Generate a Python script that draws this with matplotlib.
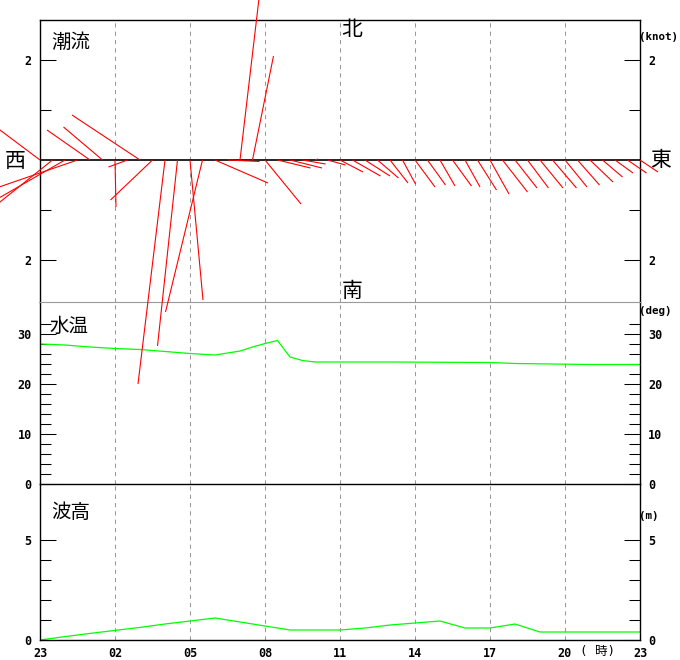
import matplotlib
matplotlib.use('Agg')
import matplotlib.pyplot as plt
import numpy as np
from matplotlib.collections import LineCollection

# time axis (hours after 23:00)
tick_hours = [0, 3, 6, 9, 12, 15, 18, 21, 24]
tick_labels = ['23', '02', '05', '08', '11', '14', '17', '20', '23']

# tidal current every 30 min, knots (east, north components)
cur_hours = np.arange(0, 24.5, 0.5)
cur_east = [-1.20, -1.30, -1.60, -1.80, -0.86, -0.78, 0.02, -0.38, -1.36, -0.84,
            -0.54, -0.40, 0.26, -0.74, 1.06, 0.64, 0.40, 0.42, 0.72, 0.66,
            0.64, 0.46, 0.06, 0.36, 0.46, 0.56, 0.50, 0.42, 0.36, 0.26,
            0.40, 0.36, 0.30, 0.38, 0.30, 0.38, 0.38, 0.50, 0.44, 0.42,
            0.46, 0.48, 0.44, 0.44, 0.46, 0.40, 0.36, 0.38, 0.36]
cur_north = [0.90, -1.04, -0.92, -0.62, 0.60, 0.66, -0.94, -0.14, 0.90, -0.80,
             -4.48, -3.72, -2.80, -3.04, -0.46, -0.03, 3.40, 2.08, -0.88, -0.16,
             -0.16, -0.08, 0.02, -0.10, -0.24, -0.32, -0.32, -0.36, -0.46, -0.48,
             -0.54, -0.50, -0.52, -0.52, -0.54, -0.60, -0.68, -0.64, -0.56, -0.56,
             -0.56, -0.56, -0.54, -0.50, -0.44, -0.34, -0.26, -0.26, -0.24]

# water temperature (deg)
temp_hours = [0, 1, 2, 3, 4, 5, 6, 7, 8, 8.5, 9, 9.5, 10, 10.5, 11, 14, 18, 19, 22, 24]
temp_deg = [28.0, 27.8, 27.4, 27.1, 26.9, 26.5, 26.1, 25.8, 26.6, 27.4, 28.1, 28.7,
            25.4, 24.7, 24.4, 24.4, 24.3, 24.1, 23.9, 23.9]

# wave height (m)
wave_hours = list(range(25))
wave_m = [0.0, 0.17, 0.33, 0.48, 0.63, 0.8, 0.95, 1.1, 0.9, 0.7, 0.5, 0.5, 0.5,
          0.6, 0.75, 0.85, 0.95, 0.6, 0.6, 0.8, 0.4, 0.4, 0.4, 0.4, 0.4]

W, H = 680, 660
fig = plt.figure(figsize=(W / 100, H / 100), dpi=100)


def box(top, bottom):
    return [40 / W, (H - bottom) / H, 600 / W, (bottom - top) / H]


def px(x, y):
    return x / W, 1 - y / H


ax1 = fig.add_axes(box(20, 302))
ax2 = fig.add_axes(box(302, 484))
ax3 = fig.add_axes(box(484, 640))
ax1.set_zorder(3)

tickfont = dict(family='DejaVu Sans Mono', weight='bold', size=8.5)
unitfont = dict(family='DejaVu Sans Mono', weight='bold', size=7.8)
grey = '#999999'

for ax in (ax1, ax2, ax3):
    ax.patch.set_visible(False)
    ax.set_xlim(0, 24)
    ax.set_xticks(tick_hours)
    ax.tick_params(axis='x', length=0, labelbottom=False)
    ax.grid(axis='x', color=grey, linestyle=(0, (4, 4)), linewidth=0.75)
    ax.yaxis.set_ticks_position('both')
    ax.tick_params(axis='y', which='major', direction='in', length=11.5, width=0.75,
                   labelleft=True, labelright=True, pad=6)
    ax.tick_params(axis='y', which='minor', direction='in', length=7.9, width=0.75)
    for s in ax.spines.values():
        s.set_linewidth(1.0)

ax1.spines['bottom'].set_color(grey)
ax1.spines['bottom'].set_linewidth(0.8)
ax2.spines['top'].set_visible(False)
ax3.spines['top'].set_visible(False)

# --- tidal current sticks
ax1.set_ylim(-2.84, 2.8)
ax1.set_yticks([-2, 2])
ax1.set_yticklabels(['2', '2'], **tickfont)
ax1.set_yticks([-1, 1], minor=True)
ax1.axhline(0, color='black', linewidth=1.2, zorder=2)
fig.canvas.draw()
bb = ax1.get_window_extent()
px_per_knot = bb.height / (ax1.get_ylim()[1] - ax1.get_ylim()[0])
px_per_hour = bb.width / 24
hours_per_knot = px_per_knot / px_per_hour
segs = [[(t, 0), (t + u * hours_per_knot, v)]
        for t, u, v in zip(cur_hours, cur_east, cur_north)]
lc = LineCollection(segs, colors='#ff0000', linewidths=0.8, clip_on=False, zorder=4)
ax1.add_collection(lc)

# --- water temperature
ax2.set_ylim(0, 182 / 5)
ax2.set_yticks([0, 10, 20, 30])
ax2.set_yticklabels(['0', '10', '20', '30'], **tickfont)
ax2.set_yticks([v for v in range(2, 34, 2) if v % 10], minor=True)
ax2.plot(temp_hours, temp_deg, color='#00ff00', linewidth=0.9)

# --- wave height
ax3.set_ylim(0, 156 / 20)
ax3.set_yticks([0, 5])
ax3.set_yticklabels(['0', '5'], **tickfont)
ax3.set_yticks([1, 2, 3, 4], minor=True)
ax3.plot(wave_hours, wave_m, color='#00ff00', linewidth=0.9)
ax3.tick_params(axis='x', labelbottom=True, pad=5)
ax3.set_xticklabels(tick_labels, **tickfont)

# --- texts
cjk = ['Noto Sans CJK JP', 'DejaVu Sans']
fig.text(*px(51, 42), '潮流', family=cjk, size=14, va='center', ha='left')
fig.text(*px(49, 326), '水温', family=cjk, size=14, va='center', ha='left')
fig.text(*px(51, 512), '波高', family=cjk, size=14, va='center', ha='left')
fig.text(*px(352, 30), '北', family=cjk, size=15, va='center', ha='center')
fig.text(*px(352, 291), '南', family=cjk, size=15, va='center', ha='center')
fig.text(*px(15, 161), '西', family=cjk, size=15, va='center', ha='center')
fig.text(*px(661, 160), '東', family=cjk, size=15, va='center', ha='center')
fig.text(*px(639, 37), '(knot)', va='center', ha='left', **unitfont)
fig.text(*px(639, 311), '(deg)', va='center', ha='left', **unitfont)
fig.text(*px(639, 516), '(m)', va='center', ha='left', **unitfont)
fig.text(*px(597, 652), '( 時)', family=['DejaVu Sans Mono', 'Noto Sans CJK JP'],
         size=9, va='center', ha='center')

fig.savefig('out.png', dpi=100)
